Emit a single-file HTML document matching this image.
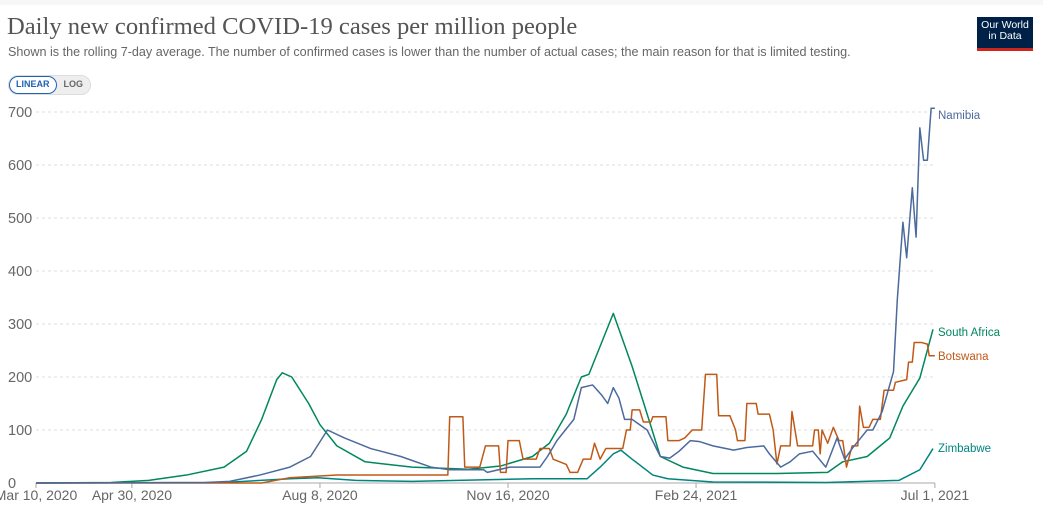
<!DOCTYPE html>
<html><head><meta charset="utf-8">
<style>
body{margin:0;width:1043px;height:520px;overflow:hidden;background:#fff;font-family:"Liberation Sans",sans-serif;}
#top{position:absolute;left:0;top:0;width:1043px;height:5px;background:#f7f7f7}
#title{position:absolute;left:7px;top:13px;font-family:"Liberation Serif",serif;font-size:24.6px;color:#555;}
#sub{position:absolute;left:8px;top:45px;font-size:12.6px;color:#666;}
#logo{position:absolute;left:977px;top:17px;width:56px;height:34px;background:#002147;color:#fff;font-size:10.5px;line-height:11px;text-align:center;padding-top:3px;box-sizing:border-box;border-bottom:3px solid #ce261e}
#tog{position:absolute;left:8px;top:75px;height:18px;border:1px solid #ddd;border-radius:10px;background:#eee;font-size:9px;font-weight:bold;display:flex}
#tog span{padding:3px 7px}
#tog .on{background:#fff;color:#1d63b6;border:1px solid #1d63b6;border-radius:10px;padding:2px 6px}
#tog .off{color:#666}
</style></head><body>
<div id="top"></div>
<div id="title">Daily new confirmed COVID-19 cases per million people</div>
<div id="sub">Shown is the rolling 7-day average. The number of confirmed cases is lower than the number of actual cases; the main reason for that is limited testing.</div>
<div id="logo">Our World<br>in Data</div>
<div id="tog"><span class="on">LINEAR</span><span class="off">LOG</span></div>
<svg id="chart" width="1043" height="520" style="position:absolute;left:0;top:0"></svg>
<script>
const yTicks=[0,100,200,300,400,500,600,700];
const xTickLabels=["Mar 10, 2020","Apr 30, 2020","Aug 8, 2020","Nov 16, 2020","Feb 24, 2021","Jul 1, 2021"];
const xTickDays=[0,51,151,251,351,478];
const seriesNames=["Namibia","South Africa","Botswana","Zimbabwe"];
const saDays=[0,40,60,80,100,112,120,128,131,136,145,151,160,175,200,230,247,264,273,282,290,294,307,317,325,332,344,360,394,421,429,442,454,461,470,477];
const saVals=[0,1,5,15,30,60,120,195,208,200,150,110,70,40,30,26,32,50,75,130,200,205,320,220,130,50,30,18,18,20,40,50,85,145,198,290];
const zwDays=[0,100,135,150,170,200,264,293,300,307,311,317,328,336,360,420,459,470,477];
const zwVals=[0,1,8,10,5,3,8,8,30,55,62,45,15,8,2,1,5,25,65];
const naDays=[0,90,103,119,135,146,155,164,178,194,210,220,238,240,252,268,272,277,286,290,296,301,304,307,310,313,317,325,332,337,342,348,353,360,371,378,387,390,396,401,406,413,420,426,430,434,442,445,450,456,458,461,463,466,468,470,472,474,476,478];
const naVals=[0,1,3,15,30,50,100,85,65,50,30,25,25,20,30,30,50,80,120,180,185,165,150,180,160,120,120,100,50,47,60,80,78,70,62,67,70,55,30,40,55,60,30,85,45,65,100,100,135,210,345,492,425,557,464,670,609,609,707,707];
const bwDays=[0,120,135,160,219,220,227,228,236,239,246,247,250,251,257,259,266,268,273,275,282,284,288,291,295,297,300,303,312,314,316,317,321,323,327,328,335,336,342,345,349,354,356,362,363,369,372,373,377,378,383,384,390,392,394,396,401,402,405,413,414,416,417,418,421,424,427,429,431,434,437,438,440,443,445,449,451,456,457,463,464,466,467,471,474,475,478];
const bwVals=[0,0,10,15,15,125,125,30,30,70,70,20,20,80,80,45,45,65,65,45,35,20,20,45,45,75,45,65,65,100,100,138,138,115,115,125,125,80,80,85,100,100,205,205,127,127,100,80,80,150,150,130,130,100,36,70,70,135,70,70,100,100,55,100,75,105,80,80,30,70,70,145,105,105,120,120,175,175,190,195,228,228,265,265,262,240,240];
const colors={"Namibia":"#4c6a9c","South Africa":"#00875e","Botswana":"#c05917","Zimbabwe":"#00847e"};
const svg=document.getElementById('chart');const NS="http://www.w3.org/2000/svg";
const X=d=>36+d*1.8805, Y=v=>483-v*0.53;
function mk(t,a){const e=document.createElementNS(NS,t);for(const k in a)e.setAttribute(k,a[k]);svg.appendChild(e);return e;}
yTicks.forEach(v=>{
 const l=mk('line',{x1:36,x2:935,y1:Y(v),y2:Y(v),stroke:v?'#ddd':'#aaa','stroke-dasharray':v?'3,3':'none'});
 
 
 const t=mk('text',{x:8,y:Y(v)+5,'font-size':14.5,fill:'#666','font-family':'Liberation Sans, sans-serif'});t.textContent=v;
 
 
});
xTickLabels.forEach((s,i)=>{
 const t=mk('text',{x:X(xTickDays[i]),y:500,'font-size':14,fill:'#666','text-anchor':'middle','font-family':'Liberation Sans, sans-serif'});t.textContent=s;
 
 
 const k=mk('line',{x1:X(xTickDays[i]),x2:X(xTickDays[i]),y1:483,y2:488,stroke:'#aaa'});
 
 
});
function line(name,days,vals,labelY){
 const p=mk('polyline',{points:days.map((d,i)=>X(d)+','+Y(vals[i])).join(' '),fill:'none',stroke:colors[name],'stroke-width':1.5,'stroke-linejoin':'round'});
 
 
 const t=mk('text',{x:938,y:labelY,'font-size':11.5,fill:colors[name],'font-family':'Liberation Sans, sans-serif'});t.textContent=name;
 
 
}
line("South Africa",saDays,saVals,336);
line("Zimbabwe",zwDays,zwVals,452);
line("Botswana",bwDays,bwVals,360);
line("Namibia",naDays,naVals,119);
</script>
</body></html>
